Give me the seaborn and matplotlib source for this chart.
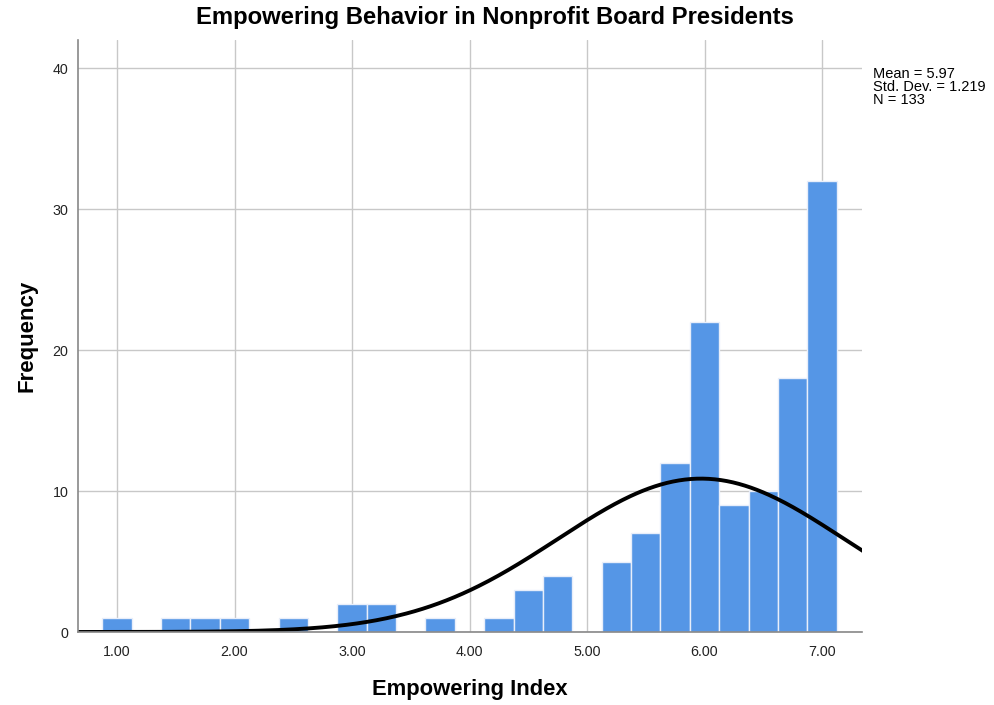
import numpy as np
import pandas as pd
import matplotlib
matplotlib.use("Agg")
import matplotlib.pyplot as plt
import seaborn as sns

# Data (bin centres, width 0.25)
bin_centers = [1.00, 1.25, 1.50, 1.75, 2.00, 2.25, 2.50, 2.75, 3.00, 3.25,
               3.50, 3.75, 4.00, 4.25, 4.50, 4.75, 5.00, 5.25, 5.50, 5.75,
               6.00, 6.25, 6.50, 6.75, 7.00]
counts = [1, 0, 1, 1, 1, 0, 1, 0, 2, 2,
          0, 1, 0, 1, 3, 4, 0, 5, 7, 12,
          22, 9, 10, 18, 32]
mean_val = 5.97
sd_val = 1.219
n_val = 133
bin_width = 0.25
x_ticks = [1, 2, 3, 4, 5, 6, 7]
x_tick_labels = ["1.00", "2.00", "3.00", "4.00", "5.00", "6.00", "7.00"]
y_ticks = [0, 10, 20, 30, 40]

sns.set_style("white")
plt.rcParams['font.family'] = ['Liberation Sans', 'DejaVu Sans']
plt.rcParams['text.color'] = 'black'
plt.rcParams['axes.labelcolor'] = 'black'

df = pd.DataFrame({"value": bin_centers, "count": counts})
lo = bin_centers[0] - bin_width / 2
hi = bin_centers[-1] + bin_width / 2

fig = plt.figure(figsize=(9.95, 7.05), dpi=100)
ax = fig.add_axes([78 / 995, 1 - 632 / 705, (862 - 78) / 995, (632 - 40) / 705])

ax.grid(True, color="#c8c8c8", linewidth=1.0)
ax.set_axisbelow(True)

sns.histplot(data=df, x="value", weights="count", binwidth=bin_width,
             binrange=(lo, hi), ax=ax,
             color="#5596e6", alpha=1.0, edgecolor="#e8eefa", linewidth=1.0)

xs = np.linspace(0.6, 7.4, 400)
ys = n_val * bin_width * np.exp(-0.5 * ((xs - mean_val) / sd_val) ** 2) / (sd_val * np.sqrt(2 * np.pi))
sns.lineplot(x=xs, y=ys, ax=ax, color="black", linewidth=2.8)

ax.set_xlim(0.668, 7.34)
ax.set_ylim(0, 42)
ax.set_xticks(x_ticks)
ax.set_xticklabels(x_tick_labels)
ax.set_yticks(y_ticks)
ax.tick_params(axis="x", length=0, labelsize=10.3, colors="#222222", pad=9)
ax.tick_params(axis="y", length=0, labelsize=10.3, colors="#222222", pad=7)

for s in ["top", "right"]:
    ax.spines[s].set_visible(False)
for s in ["left", "bottom"]:
    ax.spines[s].set_color("#888888")
    ax.spines[s].set_linewidth(1.2)

ax.set_xlabel("Empowering Index", fontsize=15.8, fontweight="bold", labelpad=15)
ax.set_ylabel("Frequency", fontsize=16, fontweight="bold", labelpad=11)
fig.text(0.497, 0.992, "Empowering Behavior in Nonprofit Board Presidents",
         ha="center", va="top", fontsize=17.2, fontweight="bold")

fig.text(873 / 995, 1 - 67 / 705,
         f"Mean = {mean_val:.2f}\nStd. Dev. = {sd_val:.3f}\nN = {n_val}",
         ha="left", va="top", fontsize=10.5, linespacing=0.92)

fig.savefig("out.png", dpi=100)
